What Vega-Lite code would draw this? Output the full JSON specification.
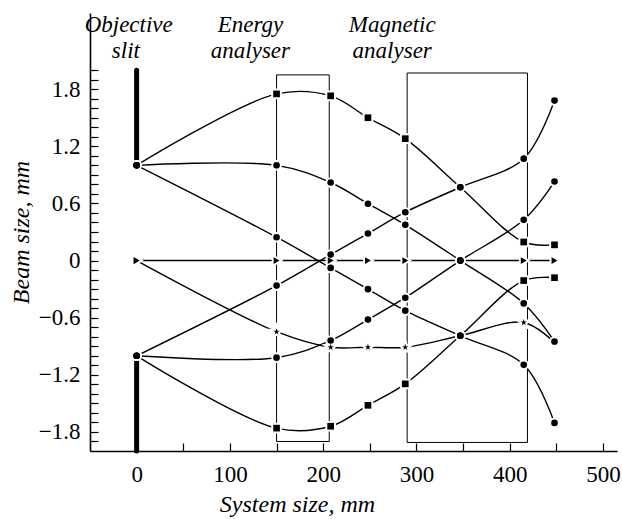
{
  "$schema": "https://vega.github.io/schema/vega-lite/v6.json",
  "width": 527,
  "height": 438,
  "autosize": {"type": "none"},
  "padding": {"left": 90, "top": 13, "right": 5, "bottom": 68},
  "background": "white",
  "config": {
    "view": {"stroke": null},
    "font": "Liberation Serif"
  },
  "datasets": {
    "boxes": [
      {"name": "Energy analyser", "x": 150, "x2": 206.5, "y": -1.9, "y2": 1.95},
      {"name": "Magnetic analyser", "x": 290, "x2": 419, "y": -1.91, "y2": 1.97}
    ],
    "slits": [
      {"x": 0, "y": 1.0, "y2": 2.0},
      {"x": 0, "y": -1.0, "y2": -2.0}
    ],
    "labels": [
      {"x": -8.5, "y": 2.47, "t": "Objective"},
      {"x": -11.5, "y": 2.2, "t": "slit"},
      {"x": 122, "y": 2.47, "t": "Energy"},
      {"x": 122, "y": 2.2, "t": "analyser"},
      {"x": 274, "y": 2.47, "t": "Magnetic"},
      {"x": 274, "y": 2.2, "t": "analyser"}
    ],
    "traces": [
      {"s": "A", "x": 0, "y": 1.0, "marker": "circle"},
      {"s": "A", "x": 150, "y": 1.75, "marker": "square"},
      {"s": "A", "x": 208, "y": 1.73, "marker": "square"},
      {"s": "A", "x": 248, "y": 1.5, "marker": "square"},
      {"s": "A", "x": 288, "y": 1.28, "marker": "square"},
      {"s": "A", "x": 347, "y": 0.77, "marker": "circle"},
      {"s": "A", "x": 415, "y": 0.195, "marker": "square"},
      {"s": "A", "x": 448, "y": 0.165, "marker": "square"},

      {"s": "A2", "x": 0, "y": -1.0, "marker": "circle"},
      {"s": "A2", "x": 150, "y": -1.76, "marker": "square"},
      {"s": "A2", "x": 208, "y": -1.74, "marker": "square"},
      {"s": "A2", "x": 248, "y": -1.52, "marker": "square"},
      {"s": "A2", "x": 288, "y": -1.295, "marker": "square"},
      {"s": "A2", "x": 347, "y": -0.79, "marker": "circle"},
      {"s": "A2", "x": 415, "y": -0.21, "marker": "square"},
      {"s": "A2", "x": 448, "y": -0.18, "marker": "square"},

      {"s": "B", "x": 0, "y": 1.0, "marker": "circle"},
      {"s": "B", "x": 150, "y": 1.0, "marker": "circle"},
      {"s": "B", "x": 208, "y": 0.82, "marker": "circle"},
      {"s": "B", "x": 248, "y": 0.597, "marker": "circle"},
      {"s": "B", "x": 288, "y": 0.375, "marker": "circle"},
      {"s": "B", "x": 347, "y": 0.0, "marker": "circle"},
      {"s": "B", "x": 415, "y": -0.45, "marker": "circle"},
      {"s": "B", "x": 448, "y": -0.85, "marker": "circle"},

      {"s": "B2", "x": 0, "y": -1.0, "marker": "circle"},
      {"s": "B2", "x": 150, "y": -1.02, "marker": "circle"},
      {"s": "B2", "x": 208, "y": -0.84, "marker": "circle"},
      {"s": "B2", "x": 248, "y": -0.62, "marker": "circle"},
      {"s": "B2", "x": 288, "y": -0.39, "marker": "circle"},
      {"s": "B2", "x": 347, "y": 0.0, "marker": "circle"},
      {"s": "B2", "x": 415, "y": 0.428, "marker": "circle"},
      {"s": "B2", "x": 448, "y": 0.83, "marker": "circle"},

      {"s": "C", "x": 0, "y": 1.0, "marker": "circle"},
      {"s": "C", "x": 150, "y": 0.245, "marker": "circle"},
      {"s": "C", "x": 208, "y": -0.077, "marker": "circle"},
      {"s": "C", "x": 248, "y": -0.3, "marker": "circle"},
      {"s": "C", "x": 288, "y": -0.526, "marker": "circle"},
      {"s": "C", "x": 347, "y": -0.79, "marker": "circle"},
      {"s": "C", "x": 415, "y": -1.095, "marker": "circle"},
      {"s": "C", "x": 448, "y": -1.705, "marker": "circle"},

      {"s": "C2", "x": 0, "y": -1.0, "marker": "circle"},
      {"s": "C2", "x": 150, "y": -0.263, "marker": "circle"},
      {"s": "C2", "x": 208, "y": 0.063, "marker": "circle"},
      {"s": "C2", "x": 248, "y": 0.284, "marker": "circle"},
      {"s": "C2", "x": 288, "y": 0.508, "marker": "circle"},
      {"s": "C2", "x": 347, "y": 0.77, "marker": "circle"},
      {"s": "C2", "x": 415, "y": 1.07, "marker": "circle"},
      {"s": "C2", "x": 448, "y": 1.68, "marker": "circle"},

      {"s": "T", "x": 0, "y": 0.0, "marker": "tri"},
      {"s": "T", "x": 150, "y": 0.0, "marker": "tri"},
      {"s": "T", "x": 208, "y": 0.0, "marker": "tri"},
      {"s": "T", "x": 248, "y": 0.0, "marker": "tri"},
      {"s": "T", "x": 288, "y": 0.0, "marker": "tri"},
      {"s": "T", "x": 347, "y": 0.0, "marker": "circle"},
      {"s": "T", "x": 415, "y": 0.0, "marker": "tri"},
      {"s": "T", "x": 448, "y": 0.0, "marker": "tri"},

      {"s": "S", "x": 0, "y": 0.0, "marker": "tri"},
      {"s": "S", "x": 150, "y": -0.747, "marker": "star"},
      {"s": "S", "x": 208, "y": -0.91, "marker": "star"},
      {"s": "S", "x": 248, "y": -0.91, "marker": "star"},
      {"s": "S", "x": 288, "y": -0.91, "marker": "star"},
      {"s": "S", "x": 347, "y": -0.79, "marker": "circle"},
      {"s": "S", "x": 415, "y": -0.65, "marker": "star"},
      {"s": "S", "x": 448, "y": -0.86, "marker": "star"}
    ]
  },
  "encoding": {
    "x": {
      "field": "x",
      "type": "quantitative",
      "scale": {"domain": [-50, 515], "nice": false, "zero": false},
      "axis": {
        "values": [0, 50, 100, 150, 200, 250, 300, 350, 400, 450, 500],
        "labelExpr": "datum.value % 100 == 0 ? format(datum.value, 'd') : ''",
        "grid": false,
        "tickSize": -8,
        "tickWidth": 1.2,
        "tickColor": "black",
        "domainColor": "black",
        "domainWidth": 1.6,
        "labelFont": "Liberation Serif",
        "labelFontSize": 23,
        "labelColor": "black",
        "labelPadding": 20,
        "labelFlush": false,
        "title": "System size, mm",
        "titleFont": "Liberation Serif",
        "titleFontSize": 24,
        "titleFontStyle": "italic",
        "titleFontWeight": "normal",
        "titleColor": "black",
        "titlePadding": 6,
        "titleX": 207
      }
    },
    "y": {
      "field": "y",
      "type": "quantitative",
      "scale": {"domain": [-2.0, 2.6], "nice": false, "zero": false},
      "axis": {
        "values": [-1.9, -1.8, -1.7, -1.6, -1.5, -1.4, -1.3, -1.2, -1.1, -1.0, -0.9, -0.8, -0.7, -0.6, -0.5, -0.4, -0.3, -0.2, -0.1, 0, 0.1, 0.2, 0.3, 0.4, 0.5, 0.6, 0.7, 0.8, 0.9, 1.0, 1.1, 1.2, 1.3, 1.4, 1.5, 1.6, 1.7, 1.8, 1.9, 2.0],
        "labelExpr": "round(datum.value * 10) % 6 == 0 ? (datum.value == 0 ? '0' : replace(format(datum.value, '.1f'), '-', '\u2212')) : ''",
        "grid": false,
        "tickSize": -8,
        "tickWidth": 1.2,
        "tickColor": "black",
        "domainColor": "black",
        "domainWidth": 1.6,
        "labelFont": "Liberation Serif",
        "labelFontSize": 23,
        "labelColor": "black",
        "labelPadding": 18,
        "title": "Beam size, mm",
        "titleFont": "Liberation Serif",
        "titleFontSize": 24,
        "titleFontStyle": "italic",
        "titleFontWeight": "normal",
        "titleColor": "black",
        "titlePadding": 5
      }
    }
  },
  "layer": [
    {
      "data": {"name": "boxes"},
      "mark": {"type": "rect", "fill": "transparent", "stroke": "black", "strokeWidth": 1},
      "encoding": {
        "x2": {"field": "x2"},
        "y2": {"field": "y2"}
      }
    },
    {
      "data": {"name": "slits"},
      "mark": {"type": "rule", "stroke": "black", "strokeWidth": 5, "strokeCap": "round"},
      "encoding": {
        "y2": {"field": "y2"}
      }
    },
    {
      "data": {"name": "traces"},
      "mark": {"type": "line", "stroke": "black", "strokeWidth": 1.4, "interpolate": "catmull-rom"},
      "encoding": {
        "detail": {"field": "s", "type": "nominal"},
        "order": {"field": "x", "type": "quantitative"}
      }
    },
    {
      "data": {"name": "traces"},
      "mark": {"type": "point", "filled": true, "fill": "white", "stroke": "white", "strokeWidth": 4, "opacity": 1},
      "encoding": {
        "shape": {
          "field": "marker",
          "type": "nominal",
          "scale": {
            "domain": ["circle", "square", "tri", "star"],
            "range": ["circle", "square", "triangle-right", "M0,-1L0.2245,-0.309L0.951,-0.309L0.363,0.118L0.588,0.809L0,0.382L-0.588,0.809L-0.363,0.118L-0.951,-0.309L-0.2245,-0.309Z"]
          },
          "legend": null
        },
        "size": {
          "field": "marker",
          "type": "nominal",
          "scale": {"domain": ["circle", "square", "tri", "star"], "range": [44, 46, 95, 150]},
          "legend": null
        }
      }
    },
    {
      "data": {"name": "traces"},
      "mark": {"type": "point", "filled": true, "fill": "black", "stroke": null, "opacity": 1},
      "encoding": {
        "shape": {"field": "marker", "type": "nominal", "legend": null},
        "size": {"field": "marker", "type": "nominal", "legend": null}
      }
    },
    {
      "data": {"name": "labels"},
      "mark": {"type": "text", "font": "Liberation Serif", "fontSize": 23, "fontStyle": "italic", "color": "black", "align": "center", "baseline": "middle"},
      "encoding": {
        "text": {"field": "t"}
      }
    }
  ]
}
